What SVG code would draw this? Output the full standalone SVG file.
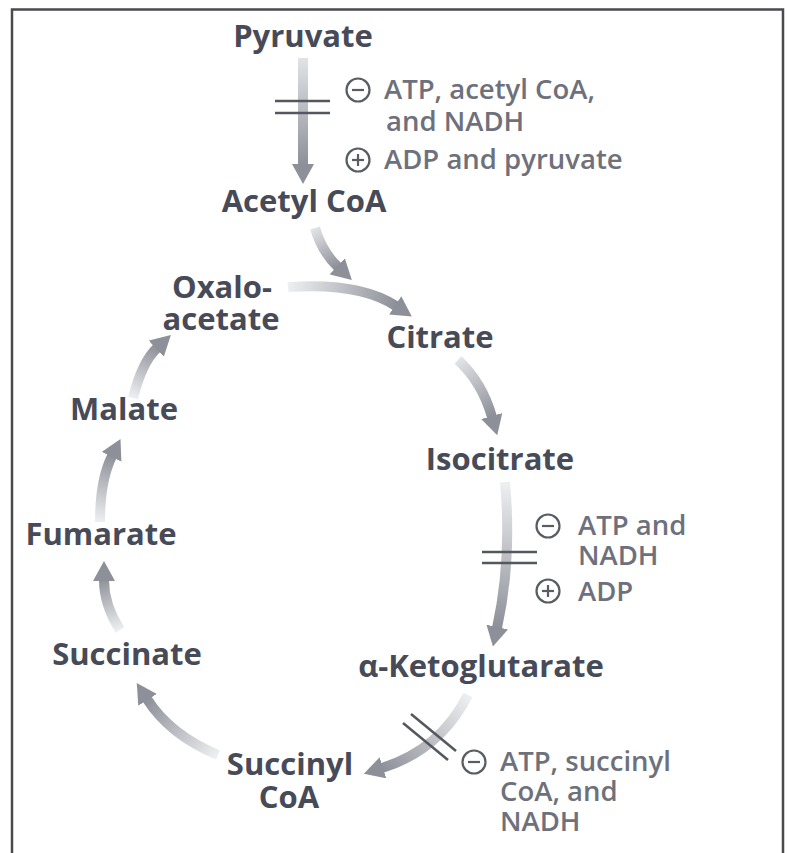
<svg xmlns="http://www.w3.org/2000/svg" width="787" height="853" viewBox="0 0 787 853">
<defs>
<style>
.node{font-family:"Open Sans","Noto Sans",sans-serif;font-weight:700;font-size:31px;fill:#474a57;text-anchor:middle}
.reg{font-family:"Open Sans","Noto Sans",sans-serif;font-weight:600;font-size:27.5px;fill:#6e717c}
.arr{fill:none;stroke-width:10;stroke-linecap:butt}
.bar{stroke:#55575f;stroke-width:2.5}
.sym{fill:none;stroke:#5a5c64;stroke-width:2.2}
.frame{stroke:#4a4a4f;stroke-width:2.5;fill:none}
</style>
<marker id="ah" viewBox="0 0 20 22" refX="1" refY="11" markerWidth="20" markerHeight="22" markerUnits="userSpaceOnUse" orient="auto">
<path d="M0,0 L20,11 L0,22 z" fill="#8e9099"/>
</marker>
<linearGradient id="g1" gradientUnits="userSpaceOnUse" x1="303" y1="58" x2="303" y2="165"><stop offset="0" stop-color="#e2e3e6"/><stop offset="1" stop-color="#8e9099"/></linearGradient>
<linearGradient id="g2" gradientUnits="userSpaceOnUse" x1="315" y1="228" x2="338" y2="267"><stop offset="0" stop-color="#e2e3e6"/><stop offset="1" stop-color="#8e9099"/></linearGradient>
<linearGradient id="g3" gradientUnits="userSpaceOnUse" x1="288" y1="287" x2="396" y2="306"><stop offset="0" stop-color="#eeeff1"/><stop offset="1" stop-color="#8e9099"/></linearGradient>
<linearGradient id="g4" gradientUnits="userSpaceOnUse" x1="458" y1="360" x2="493" y2="416"><stop offset="0" stop-color="#e2e3e6"/><stop offset="1" stop-color="#8e9099"/></linearGradient>
<linearGradient id="g5" gradientUnits="userSpaceOnUse" x1="505" y1="482" x2="497" y2="628"><stop offset="0" stop-color="#eeeff1"/><stop offset="1" stop-color="#8e9099"/></linearGradient>
<linearGradient id="g6" gradientUnits="userSpaceOnUse" x1="468" y1="695" x2="382" y2="770"><stop offset="0" stop-color="#eeeff1"/><stop offset="1" stop-color="#8e9099"/></linearGradient>
<linearGradient id="g7" gradientUnits="userSpaceOnUse" x1="218" y1="755" x2="147" y2="698"><stop offset="0" stop-color="#eeeff1"/><stop offset="1" stop-color="#8e9099"/></linearGradient>
<linearGradient id="g8" gradientUnits="userSpaceOnUse" x1="120" y1="630" x2="104" y2="578"><stop offset="0" stop-color="#eeeff1"/><stop offset="1" stop-color="#8e9099"/></linearGradient>
<linearGradient id="g9" gradientUnits="userSpaceOnUse" x1="100" y1="522" x2="112" y2="455"><stop offset="0" stop-color="#eeeff1"/><stop offset="1" stop-color="#8e9099"/></linearGradient>
<linearGradient id="g10" gradientUnits="userSpaceOnUse" x1="133" y1="398" x2="158" y2="347"><stop offset="0" stop-color="#eeeff1"/><stop offset="1" stop-color="#8e9099"/></linearGradient>
</defs>
<rect width="787" height="853" fill="#ffffff"/>
<path class="frame" d="M12,853 V9.5 H783 V853"/>

<g id="connectors">
<path class="arr" stroke="url(#g1)" d="M303,58 L303,165" marker-end="url(#ah)"/>
<path class="arr" stroke="url(#g2)" d="M315,228 Q322,252 338,267" marker-end="url(#ah)"/>
<path class="arr" stroke="url(#g3)" d="M288,287 Q360,282 396,306" marker-end="url(#ah)"/>
<path class="arr" stroke="url(#g4)" d="M458,360 Q482,382 492,417" marker-end="url(#ah)"/>
<path class="arr" stroke="url(#g5)" d="M505,482 Q512,560 497,628" marker-end="url(#ah)"/>
<path class="arr" stroke="url(#g6)" d="M468,695 Q440,750 382,768" marker-end="url(#ah)"/>
<path class="arr" stroke="url(#g7)" d="M218,755 Q170,735 147,699" marker-end="url(#ah)"/>
<path class="arr" stroke="url(#g8)" d="M120,630 Q104,605 104,580" marker-end="url(#ah)"/>
<path class="arr" stroke="url(#g9)" d="M100,522 Q100,480 112,456" marker-end="url(#ah)"/>
<path class="arr" stroke="url(#g10)" d="M133,398 Q142,362 157,348" marker-end="url(#ah)"/>
<line class="bar" x1="275" y1="101" x2="330" y2="101"/>
<line class="bar" x1="275" y1="113" x2="330" y2="113"/>
<line class="bar" x1="482" y1="552" x2="537" y2="552"/>
<line class="bar" x1="482" y1="563" x2="537" y2="563"/>
<line class="bar" x1="411" y1="714" x2="456" y2="751"/>
<line class="bar" x1="403" y1="723" x2="448" y2="760"/>
</g>

<g id="pyruvate"><text class="node" x="303" y="47">Pyruvate</text></g>
<g id="acetyl-coa"><text class="node" x="304" y="212">Acetyl CoA</text></g>
<g id="oxaloacetate"><text class="node" x="222" y="298">Oxalo-</text><text class="node" x="221" y="330">acetate</text></g>
<g id="citrate"><text class="node" x="440" y="348">Citrate</text></g>
<g id="isocitrate"><text class="node" x="500" y="470">Isocitrate</text></g>
<g id="ketoglutarate"><text class="node" x="481" y="677">α-Ketoglutarate</text></g>
<g id="succinyl-coa"><text class="node" x="290" y="775">Succinyl</text><text class="node" x="289" y="808">CoA</text></g>
<g id="succinate"><text class="node" x="127" y="665">Succinate</text></g>
<g id="fumarate"><text class="node" x="101" y="545">Fumarate</text></g>
<g id="malate"><text class="node" x="124" y="420">Malate</text></g>

<g id="reg-pdh">
<circle class="sym" cx="358" cy="90" r="11.5"/><line class="sym" x1="352" y1="90" x2="364" y2="90"/>
<text class="reg" x="384" y="99">ATP, acetyl CoA,</text>
<text class="reg" x="386" y="131">and NADH</text>
<circle class="sym" cx="358" cy="160" r="11.5"/><line class="sym" x1="352" y1="160" x2="364" y2="160"/><line class="sym" x1="358" y1="154" x2="358" y2="166"/>
<text class="reg" x="384" y="169">ADP and pyruvate</text>
</g>
<g id="reg-idh">
<circle class="sym" cx="548" cy="526" r="11.5"/><line class="sym" x1="542" y1="526" x2="554" y2="526"/>
<text class="reg" x="578" y="535">ATP and</text>
<text class="reg" x="578" y="565">NADH</text>
<circle class="sym" cx="548" cy="591" r="11.5"/><line class="sym" x1="542" y1="591" x2="554" y2="591"/><line class="sym" x1="548" y1="585" x2="548" y2="597"/>
<text class="reg" x="578" y="601">ADP</text>
</g>
<g id="reg-akgdh">
<circle class="sym" cx="474" cy="762" r="11.5"/><line class="sym" x1="468" y1="762" x2="480" y2="762"/>
<text class="reg" x="500" y="771">ATP, succinyl</text>
<text class="reg" x="500" y="801">CoA, and</text>
<text class="reg" x="500" y="831">NADH</text>
</g>
</svg>
